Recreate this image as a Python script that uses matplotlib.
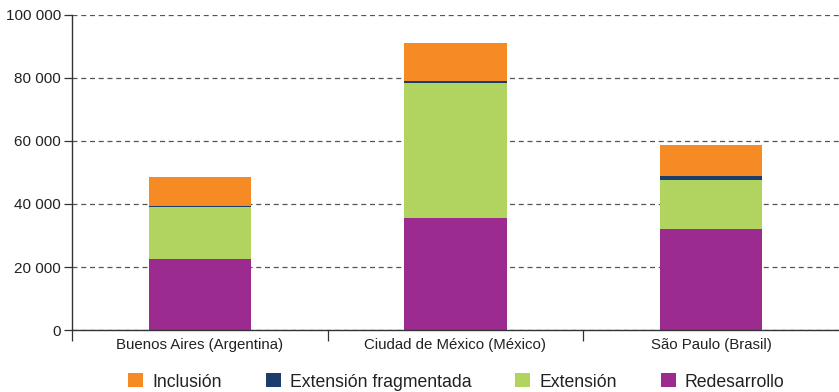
import numpy as np
import matplotlib.pyplot as plt
from matplotlib.patches import Patch
from matplotlib.ticker import FuncFormatter

plt.rcParams['font.family'] = ['Liberation Sans', 'DejaVu Sans']

# Data
cities = ['Buenos Aires (Argentina)', 'Ciudad de México (México)', 'São Paulo (Brasil)']
redesarrollo = [22400, 35600, 32100]
extension = [16700, 42700, 15500]
ext_fragmentada = [300, 800, 1400]
inclusion = [9100, 11900, 9700]

series = [
    ('Redesarrollo', redesarrollo, '#9C2B8F'),
    ('Extensión', extension, '#B1D460'),
    ('Extensión fragmentada', ext_fragmentada, '#1B3E6B'),
    ('Inclusión', inclusion, '#F68B26'),
]

fig = plt.figure(figsize=(8.39, 3.92), dpi=100)
ax = fig.add_axes([0.0858, 0.158, 0.9142, 0.804])

x = np.arange(len(cities))
bottom = np.zeros(len(cities))
for name, vals, color in series:
    ax.bar(x, vals, width=0.4, bottom=bottom, color=color, zorder=2)
    bottom += np.array(vals)

ax.set_xlim(-0.5, 2.5)
ax.set_ylim(0, 100000)
ax.set_yticks(np.arange(0, 100001, 20000))
ax.yaxis.set_major_formatter(FuncFormatter(lambda v, p: f'{int(v):,}'.replace(',', ' ')))
ax.yaxis.grid(True, linestyle=(0, (4, 3)), color='#555555', linewidth=0.9, zorder=0)

ax.set_xticks(x)
ax.set_xticklabels(cities, color='#222222')
ax.set_xticks([-0.5, 0.5, 1.5], minor=True)
ax.tick_params(axis='x', which='major', length=0, pad=6, labelsize=10.8)
ax.tick_params(axis='x', which='minor', length=8, width=0.9, color='#333333')
ax.tick_params(axis='y', length=6, width=0.9, color='#333333', labelsize=11, pad=2,
               labelcolor='#222222')

for s in ['top', 'right']:
    ax.spines[s].set_visible(False)
ax.spines['left'].set_color('#333333')
ax.spines['bottom'].set_color('#333333')
ax.spines['left'].set_linewidth(1.0)
ax.spines['bottom'].set_linewidth(1.0)

legend_order = ['Inclusión', 'Extensión fragmentada', 'Extensión', 'Redesarrollo']
colors = {n: c for n, _, c in series}
handles = [Patch(facecolor=colors[n], label=n) for n in legend_order]
leg = fig.legend(handles=handles, loc='center', bbox_to_anchor=(0.544, 10 / 392), ncol=4,
                 frameon=False, fontsize=12.7, handlelength=0.85, handleheight=0.85,
                 handletextpad=0.5, columnspacing=2.5, borderpad=0, borderaxespad=0)
for t in leg.get_texts():
    t.set_color('#222222')

fig.savefig('out.png', dpi=100)
